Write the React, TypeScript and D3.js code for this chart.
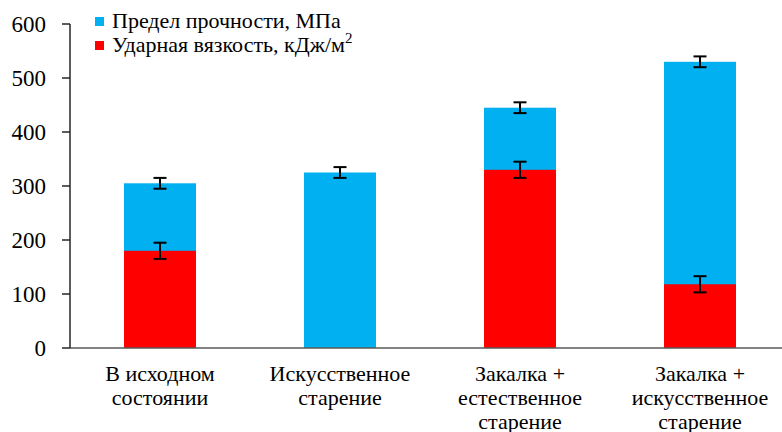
import React, { useEffect, useRef } from "react";
import * as d3 from "d3";

const categories: string[][] = [
  ["В исходном", "состоянии"],
  ["Искусственное", "старение"],
  ["Закалка +", "естественное", "старение"],
  ["Закалка +", "искусственное", "старение"],
];
const strength = [305, 325, 445, 530];
const strengthErr = [10, 10, 10, 10];
const impact = [180, 0, 330, 118];
const impactErr = [15, 0, 15, 15];
const yTicks = [0, 100, 200, 300, 400, 500, 600];
const legendLabels = ["Предел прочности, МПа", "Ударная вязкость, кДж/м"];

const W = 782;
const H = 432;
const left = 70;
const right = 790;
const top = 24;
const bottom = 348;
const BLUE = "#00B0F0";
const RED = "#FF0000";

export default function App() {
  const ref = useRef<SVGSVGElement>(null);
  const idx = categories.map((_, i) => String(i));
  const x = d3.scaleBand<string>().domain(idx).range([left, right]).paddingInner(0.6).paddingOuter(0.3);
  const y = d3.scaleLinear().domain([0, 600]).range([bottom, top]);
  const bw = x.bandwidth();
  const cap = 6.5;

  // apply the serif face to every label
  useEffect(() => {
    if (ref.current) {
      d3.select(ref.current).selectAll("text").style("font-family", "'Liberation Serif'");
    }
  }, []);

  const errBar = (cx: number, v: number, e: number, key: string) => (
    <g key={key} stroke="#000" strokeWidth={2}>
      <line x1={cx} x2={cx} y1={y(v + e)} y2={y(v - e)} />
      <line x1={cx - cap} x2={cx + cap} y1={y(v + e)} y2={y(v + e)} />
      <line x1={cx - cap} x2={cx + cap} y1={y(v - e)} y2={y(v - e)} />
    </g>
  );

  return (
    <svg ref={ref} width={W} height={H} style={{ position: "absolute", left: 0, top: 0 }}>
      {/* bars: strength behind, impact toughness in front */}
      {strength.map((v, i) => (
        <rect key={"s" + i} x={x(String(i))} y={y(v)} width={bw} height={y(0) - y(v)} fill={BLUE} />
      ))}
      {impact.map((v, i) =>
        v > 0 ? <rect key={"r" + i} x={x(String(i))} y={y(v)} width={bw} height={y(0) - y(v)} fill={RED} /> : null
      )}
      {strength.map((v, i) => errBar(x(String(i))! + bw / 2, v, strengthErr[i], "se" + i))}
      {impact.map((v, i) => (impactErr[i] > 0 ? errBar(x(String(i))! + bw / 2, v, impactErr[i], "ie" + i) : null))}

      {/* axes */}
      <line x1={left} x2={W} y1={bottom} y2={bottom} stroke="#595959" strokeWidth={1.5} />
      <line x1={left} x2={left} y1={top} y2={bottom} stroke="#262626" strokeWidth={1.5} />
      {yTicks.map((t) => (
        <g key={t}>
          <line x1={left - 8} x2={left} y1={y(t)} y2={y(t)} stroke="#262626" strokeWidth={1.5} />
          <text x={46} y={y(t) + 8} textAnchor="end" fontSize={23}>
            {t}
          </text>
        </g>
      ))}

      {/* category labels */}
      {categories.map((lines, i) => (
        <text key={"c" + i} textAnchor="middle" fontSize={22}>
          {lines.map((l, j) => (
            <tspan key={j} x={x(String(i))! + bw / 2} y={381 + j * 24}>
              {l}
            </tspan>
          ))}
        </text>
      ))}

      {/* legend */}
      <rect x={95} y={17} width={9} height={9} fill={BLUE} />
      <text x={112} y={28} fontSize={22}>
        {legendLabels[0]}
      </text>
      <rect x={95} y={41} width={9} height={9} fill={RED} />
      <text x={112} y={52} fontSize={22}>
        {legendLabels[1]}
        <tspan fontSize={15} dy={-9}>2</tspan>
      </text>
    </svg>
  );
}
